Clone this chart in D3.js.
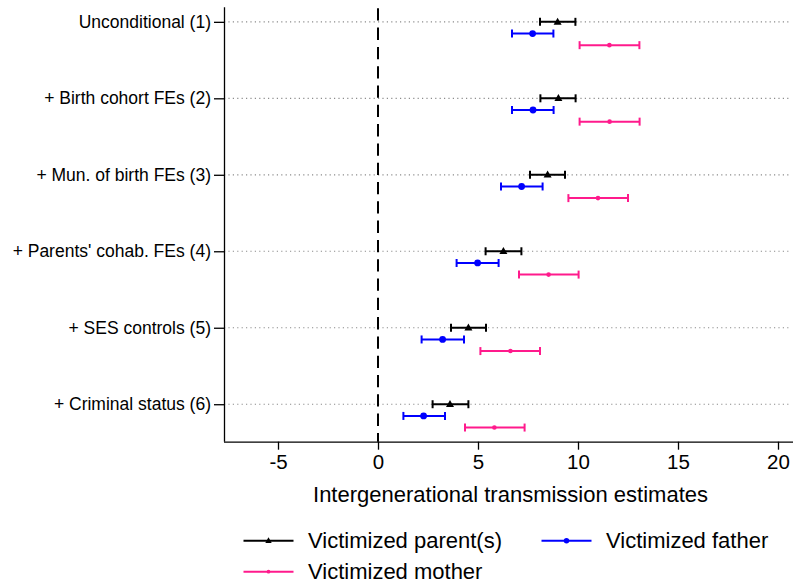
<!DOCTYPE html>
<html>
<head>
<meta charset="utf-8">
<script src="https://cdn.jsdelivr.net/npm/d3@7"></script>
<style>
  html, body { margin: 0; padding: 0; background: #fff; }
  svg { display: block; font-family: "Liberation Sans", Arial, Helvetica, sans-serif; }
</style>
</head>
<body>
<svg id="chart" width="793" height="585"></svg>
<script>
// ---- data ----
const categories = [
  "Unconditional (1)",
  "+ Birth cohort FEs (2)",
  "+ Mun. of birth FEs (3)",
  "+ Parents' cohab. FEs (4)",
  "+ SES controls (5)",
  "+ Criminal status (6)"
];
const seriesNames = ["Victimized parent(s)", "Victimized father", "Victimized mother"];
const seriesColors = ["#000000", "#0000ff", "#ff1a8c"];
const seriesOffsets = [0, 0.153, 0.305];

const parentEst = [8.98, 9.02, 8.48, 6.27, 4.52, 3.60];
const parentLo  = [8.10, 8.12, 7.60, 5.38, 3.65, 2.73];
const parentHi  = [9.87, 9.88, 9.35, 7.17, 5.40, 4.52];

const fatherEst = [7.73, 7.75, 7.18, 4.98, 3.23, 2.28];
const fatherLo  = [6.70, 6.70, 6.15, 3.93, 2.18, 1.27];
const fatherHi  = [8.77, 8.78, 8.23, 6.03, 4.30, 3.35];

const motherEst = [11.57, 11.58, 11.00, 8.53, 6.62, 5.82];
const motherLo  = [10.08, 10.08, 9.52, 7.05, 5.12, 4.35];
const motherHi  = [13.07, 13.08, 12.50, 10.03, 8.10, 7.33];

const xTicks = [-5, 0, 5, 10, 15, 20];
const xTitle = "Intergenerational transmission estimates";

// ---- build ----
(function () {
const series = [
  {est: parentEst, lo: parentLo, hi: parentHi},
  {est: fatherEst, lo: fatherLo, hi: fatherHi},
  {est: motherEst, lo: motherLo, hi: motherHi}
];

const svg = d3.select("#chart");
const pL = 224, pR = 793, pT = 7.3, pB = 441.7;

const x = d3.scaleLinear().domain([-7.7, 20.75]).range([pL, pR]);
const y = d3.scaleLinear().domain([-0.19, 5.49]).range([pT, pB]);

// grid lines (dotted) at each category
svg.append("g").selectAll("line").data(categories).join("line")
  .attr("x1", pL).attr("x2", pR - 2)
  .attr("y1", (d, i) => y(i)).attr("y2", (d, i) => y(i))
  .attr("stroke", "#8c8c8c").attr("stroke-width", 1.2)
  .attr("stroke-dasharray", "1.2,3.2");

// zero reference line
svg.append("line")
  .attr("x1", x(0)).attr("x2", x(0))
  .attr("y1", pT + 1).attr("y2", pB)
  .attr("stroke", "#000").attr("stroke-width", 2)
  .attr("stroke-dasharray", "12.3,7");

// x axis
const xAxis = d3.axisBottom(x).tickValues(xTicks).tickSize(8).tickPadding(5)
  .tickFormat(d => d < 0 ? "-" + Math.abs(d) : String(d));
const gx = svg.append("g").attr("transform", `translate(0,${pB})`).call(xAxis);
gx.select(".domain").attr("d", `M${pL},0.5H${pR}`).attr("stroke", "#000").attr("stroke-width", 1.3);
gx.selectAll(".tick line").attr("stroke", "#000").attr("stroke-width", 1.3);
gx.selectAll(".tick text").attr("font-size", 20.5).attr("fill", "#000")
  .attr("font-family", "Liberation Sans, Arial, sans-serif");

// y axis
const yAxis = d3.axisLeft(y).tickValues(d3.range(categories.length)).tickSize(10).tickPadding(3)
  .tickFormat(i => categories[i]);
const gy = svg.append("g").attr("transform", `translate(${pL},0)`).call(yAxis);
gy.select(".domain").attr("d", `M0.5,${pT}V${pB}`).attr("stroke", "#000").attr("stroke-width", 1.3);
gy.selectAll(".tick line").attr("stroke", "#000").attr("stroke-width", 1.3);
gy.selectAll(".tick text").attr("font-size", 17.5).attr("fill", "#000")
  .attr("font-family", "Liberation Sans, Arial, sans-serif");

// x axis title
svg.append("text")
  .attr("x", (pL + pR) / 2 + 2).attr("y", 502)
  .attr("text-anchor", "middle").attr("font-size", 22).attr("fill", "#000")
  .text(xTitle);

// markers
function drawMarker(g, k, cx, cy, scale) {
  const s = scale || 1;
  if (k === 0) {
    const h = 7 * s, w = 8 * s;
    g.append("path")
      .attr("d", `M${cx},${cy - h * 0.6}L${cx + w / 2},${cy + h * 0.4}L${cx - w / 2},${cy + h * 0.4}Z`)
      .attr("fill", seriesColors[k]);
  } else if (k === 1) {
    g.append("circle").attr("cx", cx).attr("cy", cy).attr("r", 3.4 * s).attr("fill", seriesColors[k]);
  } else {
    g.append("circle").attr("cx", cx).attr("cy", cy).attr("r", 2.3 * s).attr("fill", seriesColors[k]);
  }
}

// error bars + points
series.forEach((s, k) => {
  const g = svg.append("g");
  const color = seriesColors[k];
  categories.forEach((c, i) => {
    const yy = y(i + seriesOffsets[k]);
    const capH = 4;
    g.append("line")
      .attr("x1", x(s.lo[i])).attr("x2", x(s.hi[i]))
      .attr("y1", yy).attr("y2", yy)
      .attr("stroke", color).attr("stroke-width", 2);
    [s.lo[i], s.hi[i]].forEach(v => {
      g.append("line")
        .attr("x1", x(v)).attr("x2", x(v))
        .attr("y1", yy - capH).attr("y2", yy + capH)
        .attr("stroke", color).attr("stroke-width", 2);
    });
    drawMarker(g, k, x(s.est[i]), yy, 1);
  });
});

// legend
const legendItems = [
  {k: 0, lx: 243.5, ly: 540.7},
  {k: 1, lx: 541.5, ly: 540.7},
  {k: 2, lx: 243.5, ly: 571.7}
];
const lg = svg.append("g");
legendItems.forEach(it => {
  lg.append("line")
    .attr("x1", it.lx).attr("x2", it.lx + 50)
    .attr("y1", it.ly).attr("y2", it.ly)
    .attr("stroke", seriesColors[it.k]).attr("stroke-width", 2);
  drawMarker(lg, it.k, it.lx + 25, it.ly, 0.8);
  lg.append("text")
    .attr("x", it.lx + 64.5).attr("y", it.ly + 7.5)
    .attr("font-size", 22).attr("fill", "#000")
    .text(seriesNames[it.k]);
});
})();
</script>
</body>
</html>
